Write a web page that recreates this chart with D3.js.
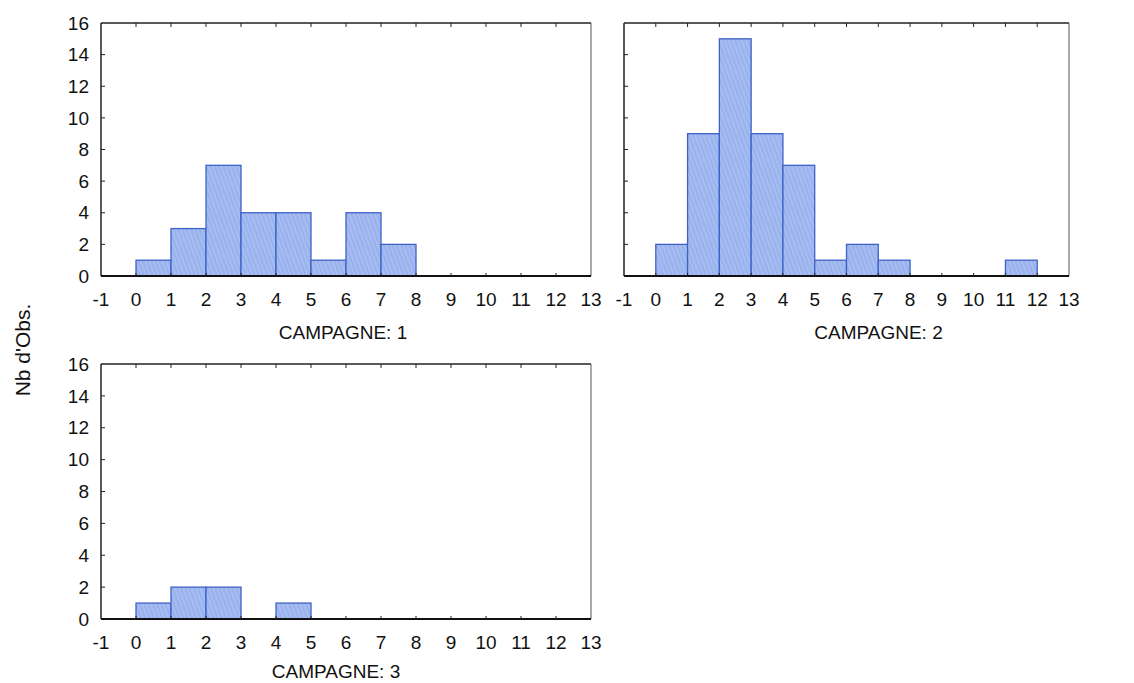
<!DOCTYPE html>
<html>
<head>
<meta charset="utf-8">
<script src="https://cdn.jsdelivr.net/npm/d3@7"></script>
<style>
  body { margin: 0; background: #fff; }
  text { font-family: "Liberation Sans", Arial, sans-serif; fill: #111; }
</style>
</head>
<body>
<div id="chart"></div>
<script>
// histogram bins are 1 unit wide, starting at 0
const binStarts = [0, 1, 2, 3, 4, 5, 6, 7, 8, 9, 10, 11];
const campagne1 = [1, 3, 7, 4, 4, 1, 4, 2, 0, 0, 0, 0];
const campagne2 = [2, 9, 15, 9, 7, 1, 2, 1, 0, 0, 0, 1];
const campagne3 = [1, 2, 2, 0, 1, 0, 0, 0, 0, 0, 0, 0];
const xTicks = [-1, 0, 1, 2, 3, 4, 5, 6, 7, 8, 9, 10, 11, 12, 13];
const yTicks = [0, 2, 4, 6, 8, 10, 12, 14, 16];
const panelTitles = ["CAMPAGNE: 1", "CAMPAGNE: 2", "CAMPAGNE: 3"];

const svg = d3.select("#chart")
    .append("svg")
    .attr("width", 1134)
    .attr("height", 683);

// hatched fill for the bars
const pat = svg.append("defs").append("pattern")
    .attr("id", "hatch")
    .attr("patternUnits", "userSpaceOnUse")
    .attr("width", 4)
    .attr("height", 4)
    .attr("patternTransform", "rotate(-20)");
pat.append("rect").attr("width", 4).attr("height", 4).attr("fill", "#a7bdf1");
pat.append("line")
    .attr("x1", 1).attr("y1", 0).attr("x2", 1).attr("y2", 4)
    .attr("stroke", "#8ca6e8").attr("stroke-width", 1);

function drawPanel(counts, title, box, showY, titleShift, titleGap) {
    const x = d3.scaleLinear().domain([-1, 13]).range([box.left, box.right]);
    const y = d3.scaleLinear().domain([0, 16]).range([box.bottom, box.top]);
    const g = svg.append("g");

    // frame
    g.append("line").attr("x1", box.left).attr("x2", box.right)
        .attr("y1", box.top).attr("y2", box.top)
        .attr("stroke", "#222").attr("stroke-width", 1.5);
    g.append("line").attr("x1", box.right).attr("x2", box.right)
        .attr("y1", box.top).attr("y2", box.bottom)
        .attr("stroke", "#555").attr("stroke-width", 1);
    g.append("line").attr("x1", box.left).attr("x2", box.left)
        .attr("y1", box.top).attr("y2", box.bottom)
        .attr("stroke", "#222").attr("stroke-width", 1.5);

    // bars
    g.selectAll(".bar")
        .data(binStarts)
        .enter().append("rect")
        .attr("class", "bar")
        .attr("x", (d) => x(d))
        .attr("width", (d) => x(d + 1) - x(d))
        .attr("y", (d, i) => y(counts[i]))
        .attr("height", (d, i) => y(0) - y(counts[i]))
        .attr("fill", "url(#hatch)")
        .attr("stroke", "#3f62c6")
        .attr("stroke-width", 1.3);

    // bottom axis line
    g.append("line").attr("x1", box.left).attr("x2", box.right)
        .attr("y1", box.bottom).attr("y2", box.bottom)
        .attr("stroke", "#111").attr("stroke-width", 2.2);

    // inward ticks on top and bottom
    g.selectAll(".ttick").data(xTicks.slice(1, -1)).enter().append("line")
        .attr("x1", (d) => x(d)).attr("x2", (d) => x(d))
        .attr("y1", box.top).attr("y2", box.top + 4)
        .attr("stroke", "#222");
    g.selectAll(".btick").data(xTicks.slice(1, -1)).enter().append("line")
        .attr("x1", (d) => x(d)).attr("x2", (d) => x(d))
        .attr("y1", box.bottom).attr("y2", box.bottom - 3)
        .attr("stroke", "#222");
    // left ticks
    g.selectAll(".ltick").data(yTicks.slice(1, -1)).enter().append("line")
        .attr("x1", box.left).attr("x2", box.left + 4)
        .attr("y1", (d) => y(d)).attr("y2", (d) => y(d))
        .attr("stroke", "#222");

    // x tick labels
    g.selectAll(".xlab").data(xTicks).enter().append("text")
        .attr("x", (d) => x(d))
        .attr("y", box.bottom + 23)
        .attr("dy", "0.35em")
        .attr("text-anchor", "middle")
        .style("font-size", "19px")
        .text((d) => d);

    if (showY) {
        g.selectAll(".ylab").data(yTicks).enter().append("text")
            .attr("x", box.left - 12)
            .attr("y", (d) => y(d))
            .attr("dy", "0.35em")
            .attr("text-anchor", "end")
            .style("font-size", "19px")
            .text((d) => d);
    }

    g.append("text")
        .attr("x", (box.left + box.right) / 2 + titleShift)
        .attr("y", box.bottom + titleGap)
        .attr("dy", "0.35em")
        .attr("text-anchor", "middle")
        .style("font-size", "19px")
        .text(title);
}

drawPanel(campagne1, panelTitles[0], { left: 101, right: 591, top: 23, bottom: 276 }, true, -3, 56);
drawPanel(campagne2, panelTitles[1], { left: 624, right: 1069, top: 23, bottom: 276 }, false, 32, 56);
drawPanel(campagne3, panelTitles[2], { left: 101, right: 591, top: 364, bottom: 619 }, true, -10, 52);

// shared y title
svg.append("text")
    .attr("transform", "translate(23,350) rotate(-90)")
    .attr("dy", "0.35em")
    .attr("text-anchor", "middle")
    .style("font-size", "21px")
    .text("Nb d'Obs.");
</script>
</body>
</html>
